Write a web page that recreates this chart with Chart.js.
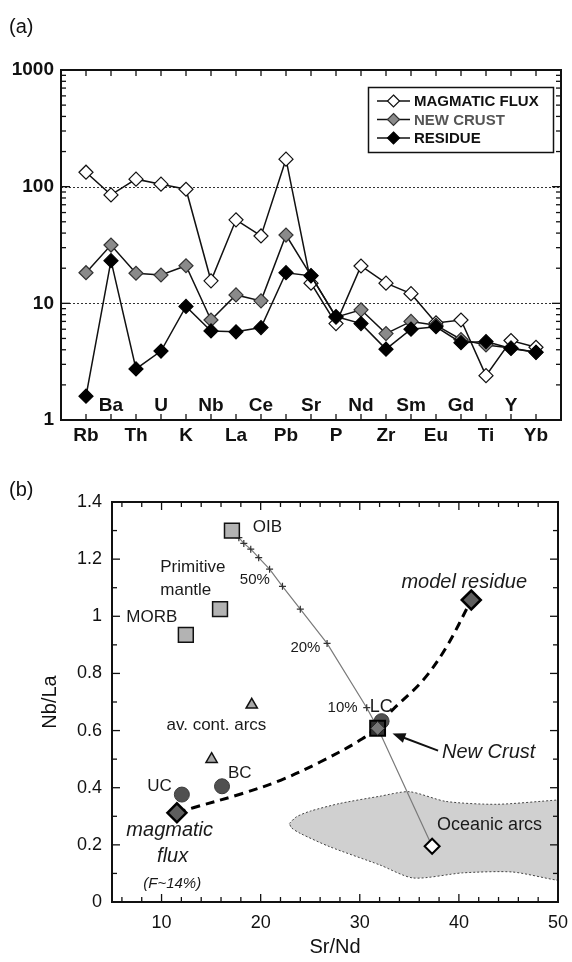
<!DOCTYPE html>
<html>
<head>
<meta charset="utf-8">
<script src="https://cdn.jsdelivr.net/npm/chart.js@4.4.1/dist/chart.umd.min.js"></script>
<style>
  html, body { margin: 0; padding: 0; background: #fff; }
  #wrap { position: relative; width: 572px; height: 962px; }
  #chartA { position: absolute; left: 0; top: 0; }
  #chartB { position: absolute; left: 0; top: 470px; }
</style>
</head>
<body>
<div id="wrap">
  <canvas id="chartA" width="572" height="470" style="width:572px;height:470px"></canvas>
  <canvas id="chartB" width="572" height="492" style="width:572px;height:492px"></canvas>
</div>
<script>
// ---- panel (a): normalised trace elements ----
const elements = ['Rb', 'Ba', 'Th', 'U', 'K', 'Nb', 'La', 'Ce', 'Pb', 'Sr', 'P', 'Nd', 'Zr', 'Sm', 'Eu', 'Gd', 'Ti', 'Y', 'Yb'];
const magmaticFlux = [133, 85, 116, 105, 95, 15.6, 52, 37.8, 172, 14.9, 6.7, 20.9, 14.9, 12.1, 6.8, 7.2, 2.4, 4.8, 4.2];
const newCrust = [18.3, 31.6, 18.1, 17.5, 21, 7.2, 11.8, 10.5, 38.5, 17.3, 7.6, 8.8, 5.5, 7.0, 6.5, 4.9, 4.4, 4.15, 3.8];
const residue = [1.6, 23.2, 2.74, 3.9, 9.4, 5.8, 5.7, 6.2, 18.3, 17.2, 7.7, 6.7, 4.05, 6.0, 6.3, 4.6, 4.7, 4.1, 3.8];
const decadeLabels = [1, 10, 100, 1000];

// ---- panel (b): Sr/Nd vs Nb/La ----
const refSquares = [[17.1, 1.30], [15.9, 1.025], [12.45, 0.935]];          // OIB, primitive mantle, MORB
const contArcs = [[19.1, 0.69], [15.05, 0.50]];
const crustCircles = [[12.05, 0.376], [16.1, 0.405], [32.2, 0.633]];        // UC, BC, LC
const newCrustPt = [[31.8, 0.608]];
const modelEnds = [[11.55, 0.312], [41.25, 1.057]];                          // magmatic flux, model residue
const oceanicStart = [[37.3, 0.195]];
const mixCurve = [[17.1, 1.30], [17.4, 1.29], [17.8, 1.275], [18.3, 1.255], [19.0, 1.235], [19.8, 1.205],
  [20.9, 1.165], [22.2, 1.105], [24.0, 1.025], [26.7, 0.905], [30.7, 0.68], [31.8, 0.61], [37.3, 0.195]];
const mixTicks = [[17.4, 1.29], [17.8, 1.275], [18.3, 1.255], [19.0, 1.235], [19.8, 1.205], [20.9, 1.165],
  [22.2, 1.105], [24.0, 1.025], [26.7, 0.905], [30.7, 0.68]];
const meltCurve = [[11.55, 0.312], [13.2, 0.33], [18, 0.378], [22, 0.426], [26, 0.49], [30.3, 0.572],
  [32, 0.62], [33.3, 0.672], [36.35, 0.775], [38.7, 0.89], [41.25, 1.057]];
const oceanicArcs = [[22.9, 0.275], [23.6, 0.298], [25, 0.318], [28, 0.345], [32, 0.37], [35.0, 0.386],
  [38.7, 0.352], [43.8, 0.342], [50, 0.357], [52, 0.36], [52, 0.07], [49.8, 0.077], [45.4, 0.105],
  [40.4, 0.102], [35.4, 0.084], [32, 0.13], [27, 0.193], [24, 0.24], [23.1, 0.26], [22.9, 0.275]];

const FONT = "'Liberation Sans', Arial, Helvetica, sans-serif";
Chart.defaults.font.family = FONT;
Chart.defaults.color = '#111';

const pts = arr => arr.map(([x, y]) => ({x, y}));
const seriesPoints = values => values.map((v, i) => ({x: i, y: v}));

function strokeLine(ctx, x1, y1, x2, y2) {
  ctx.beginPath();
  ctx.moveTo(x1, y1);
  ctx.lineTo(x2, y2);
  ctx.stroke();
}

function diamond(ctx, x, y, r) {
  ctx.beginPath();
  ctx.moveTo(x, y - r);
  ctx.lineTo(x + r, y);
  ctx.lineTo(x, y + r);
  ctx.lineTo(x - r, y);
  ctx.closePath();
}

// keep horizontal axes from reserving room for edge labels
const noOverhang = (s, h) => { s.height = h; s.paddingLeft = 0; s.paddingRight = 0; };

// ════════ PANEL (a) ════════
const panelA = {
  id: 'panelA',
  beforeDatasetsDraw(chart) {
    const {ctx, chartArea: a, scales: {y}} = chart;
    ctx.save();
    ctx.strokeStyle = '#333';
    ctx.lineWidth = 1;
    ctx.setLineDash([2, 2]);
    [10, 100].forEach(v => {
      const py = Math.round(y.getPixelForValue(v)) + 0.5;
      strokeLine(ctx, a.left, py, a.right, py);
    });
    ctx.restore();
  },
  afterDraw(chart) {
    const {ctx, chartArea: a, scales: {x, y}} = chart;
    ctx.save();
    // frame
    ctx.strokeStyle = '#111';
    ctx.lineWidth = 2;
    ctx.strokeRect(a.left, a.top, a.right - a.left, a.bottom - a.top);

    // inward ticks
    ctx.lineWidth = 1.3;
    y.ticks.forEach(t => {
      const py = y.getPixelForValue(t.value);
      const len = decadeLabels.includes(t.value) ? 9 : 5;
      strokeLine(ctx, a.left, py, a.left + len, py);
      strokeLine(ctx, a.right, py, a.right - len, py);
    });
    x.ticks.forEach(t => {
      const px = x.getPixelForValue(t.value);
      strokeLine(ctx, px, a.bottom, px, a.bottom - 6);
      strokeLine(ctx, px, a.top, px, a.top + 6);
    });

    // odd elements sit inside, above the axis
    ctx.font = 'bold 19px ' + FONT;
    ctx.fillStyle = '#111';
    ctx.textAlign = 'center';
    ctx.textBaseline = 'middle';
    elements.forEach((el, i) => {
      if (i % 2 === 1) ctx.fillText(el, x.getPixelForValue(i), a.bottom - 14);
    });

    // legend box
    const lx = 368, ly = 87, lw = 185, lh = 65;
    ctx.lineWidth = 1.5;
    ctx.strokeRect(lx + 0.5, ly + 0.5, lw, lh);
    const textColors = ['#111', '#555', '#111'];
    ctx.font = 'bold 15px ' + FONT;
    ctx.textAlign = 'left';
    chart.data.datasets.forEach((ds, i) => {
      const ry = ly + 14 + i * 18.5;
      ctx.strokeStyle = '#111';
      ctx.lineWidth = 1.5;
      strokeLine(ctx, lx + 9, ry, lx + 42, ry);
      diamond(ctx, lx + 25.5, ry, 6);
      ctx.fillStyle = ds.pointBackgroundColor;
      ctx.fill();
      ctx.lineWidth = 1.2;
      ctx.strokeStyle = ds.pointBorderColor;
      ctx.stroke();
      ctx.fillStyle = textColors[i];
      ctx.fillText(ds.label, lx + 46, ry + 1);
    });

    ctx.font = '20px ' + FONT;
    ctx.fillStyle = '#111';
    ctx.fillText('(a)', 9, 27);
    ctx.restore();
  }
};

new Chart(document.getElementById('chartA'), {
  type: 'scatter',
  data: {
    datasets: [
      {
        label: 'MAGMATIC FLUX', data: seriesPoints(magmaticFlux), showLine: true, order: 2,
        borderColor: '#111', borderWidth: 1.5,
        pointStyle: 'rectRot', pointRadius: 7, pointBorderWidth: 1.2,
        pointBackgroundColor: '#ffffff', pointBorderColor: '#111'
      },
      {
        label: 'NEW CRUST', data: seriesPoints(newCrust), showLine: true, order: 1,
        borderColor: '#111', borderWidth: 1.5,
        pointStyle: 'rectRot', pointRadius: 7, pointBorderWidth: 1.2,
        pointBackgroundColor: '#8a8a8a', pointBorderColor: '#333'
      },
      {
        label: 'RESIDUE', data: seriesPoints(residue), showLine: true, order: 0,
        borderColor: '#111', borderWidth: 1.5,
        pointStyle: 'rectRot', pointRadius: 7, pointBorderWidth: 1.2,
        pointBackgroundColor: '#000000', pointBorderColor: '#000'
      }
    ]
  },
  options: {
    responsive: false,
    animation: false,
    layout: { padding: { top: 70, right: 11, left: 0, bottom: 0 } },
    plugins: { legend: { display: false }, tooltip: { enabled: false } },
    scales: {
      x: {
        type: 'linear', min: -1, max: 19,
        afterBuildTicks: s => { s.ticks = elements.map((_, i) => ({value: i})); },
        afterFit: s => noOverhang(s, 50),
        grid: { display: false, drawTicks: false },
        border: { display: false },
        ticks: {
          autoSkip: false, maxRotation: 0, padding: 4,
          font: { size: 19, weight: 'bold' }, color: '#111',
          callback: v => (v % 2 === 0 ? elements[v] : '')
        }
      },
      y: {
        type: 'logarithmic', min: 1, max: 1000,
        afterBuildTicks: s => {
          const ticks = [];
          for (let d = 1; d < 1000; d *= 10) for (let m = 1; m < 10; m++) ticks.push({value: d * m});
          ticks.push({value: 1000});
          s.ticks = ticks;
        },
        afterFit: s => { s.width = 61; },
        grid: { display: false, drawTicks: false },
        border: { display: false },
        ticks: {
          autoSkip: false, padding: 7,
          font: { size: 19, weight: 'bold' }, color: '#111',
          callback: v => (decadeLabels.includes(v) ? String(v) : '')
        }
      }
    }
  },
  plugins: [panelA]
});

// ════════ PANEL (b) ════════
const notes = [
  ['OIB', 19.2, 1.31, '17px'], ['Primitive', 9.87, 1.173, '17px'], ['mantle', 9.87, 1.092, '17px'],
  ['50%', 17.9, 1.127, '15px'], ['MORB', 6.45, 0.995, '17px'], ['20%', 23.0, 0.891, '15px'],
  ['model residue', 34.2, 1.118, 'italic 20px'], ['10%', 26.75, 0.68, '15px'], ['LC', 31.0, 0.682, '18px'],
  ['av. cont. arcs', 10.5, 0.618, '17px'], ['UC', 8.55, 0.405, '17px'], ['BC', 16.7, 0.45, '17px'],
  ['magmatic', 6.45, 0.251, 'italic 20px'], ['flux', 9.55, 0.161, 'italic 20px'],
  ['(F~14%)', 8.15, 0.063, 'italic 15px'], ['New Crust', 38.3, 0.524, 'italic 20px'],
  ['Oceanic arcs', 37.8, 0.269, '18px']
];
const arrowFrom = [37.9, 0.53];
const arrowTo = [33.3, 0.59];

const panelB = {
  id: 'panelB',
  afterDatasetsDraw(chart) {
    const {ctx, scales: {x, y}} = chart;
    ctx.save();
    ctx.fillStyle = '#1a1a1a';
    ctx.textAlign = 'left';
    ctx.textBaseline = 'middle';
    notes.forEach(([text, vx, vy, f]) => {
      ctx.font = f + ' ' + FONT;
      ctx.fillText(text, x.getPixelForValue(vx), y.getPixelForValue(vy));
    });

    // arrow to the new crust point
    const x1 = x.getPixelForValue(arrowFrom[0]), y1 = y.getPixelForValue(arrowFrom[1]);
    const x2 = x.getPixelForValue(arrowTo[0]), y2 = y.getPixelForValue(arrowTo[1]);
    const ang = Math.atan2(y2 - y1, x2 - x1);
    ctx.strokeStyle = '#111';
    ctx.lineWidth = 2;
    strokeLine(ctx, x1, y1, x2 - 8 * Math.cos(ang), y2 - 8 * Math.sin(ang));
    ctx.beginPath();
    ctx.moveTo(x2, y2);
    ctx.lineTo(x2 - 13 * Math.cos(ang) + 5 * Math.sin(ang), y2 - 13 * Math.sin(ang) - 5 * Math.cos(ang));
    ctx.lineTo(x2 - 13 * Math.cos(ang) - 5 * Math.sin(ang), y2 - 13 * Math.sin(ang) + 5 * Math.cos(ang));
    ctx.closePath();
    ctx.fillStyle = '#111';
    ctx.fill();
    ctx.restore();
  },
  afterDraw(chart) {
    const {ctx, chartArea: a, scales: {x, y}} = chart;
    ctx.save();
    ctx.strokeStyle = '#111';
    ctx.lineWidth = 2;
    ctx.strokeRect(a.left, a.top, a.right - a.left, a.bottom - a.top);
    ctx.lineWidth = 1.3;
    y.ticks.forEach(t => {
      const py = y.getPixelForValue(t.value);
      const len = Math.round(t.value * 10) % 2 === 0 ? 8 : 5;
      strokeLine(ctx, a.left, py, a.left + len, py);
      strokeLine(ctx, a.right, py, a.right - len, py);
    });
    x.ticks.forEach(t => {
      const px = x.getPixelForValue(t.value);
      const len = t.value % 10 === 0 ? 8 : 5;
      strokeLine(ctx, px, a.bottom, px, a.bottom - len);
      strokeLine(ctx, px, a.top, px, a.top + len);
    });
    ctx.font = '20px ' + FONT;
    ctx.fillStyle = '#111';
    ctx.textBaseline = 'middle';
    ctx.fillText('(b)', 9, 20);
    ctx.restore();
  }
};

const marker = (data, style, radius, bg, border, width, order) => ({
  data: pts(data), showLine: false, order,
  pointStyle: style, pointRadius: radius,
  pointBackgroundColor: bg, pointBorderColor: border, pointBorderWidth: width
});

new Chart(document.getElementById('chartB'), {
  type: 'scatter',
  data: {
    datasets: [
      {
        data: pts(oceanicArcs), showLine: true, order: 10, pointRadius: 0, tension: 0.25,
        fill: 'shape', backgroundColor: '#d0d0d0',
        borderColor: '#444', borderWidth: 1, borderDash: [2, 2]
      },
      { data: pts(mixCurve), showLine: true, order: 9, pointRadius: 0, borderColor: '#7a7a7a', borderWidth: 1.2 },
      {
        data: pts(meltCurve), showLine: true, order: 8, pointRadius: 0, tension: 0.35,
        borderColor: '#000', borderWidth: 3, borderDash: [9, 6]
      },
      marker(mixTicks, 'cross', 3.5, '#333', '#333', 1.2, 7),
      marker(refSquares, 'rect', 10.5, '#b3b3b3', '#111', 1.5, 6),
      marker(contArcs, 'triangle', 6.5, '#a8a8a8', '#111', 1.5, 5),
      marker(crustCircles, 'circle', 7.5, '#505050', '#3a3a3a', 1, 4),
      marker(newCrustPt, 'rect', 10.5, '#333', '#000', 2, 3),
      marker(newCrustPt, 'rectRot', 7, '#777', '#222', 1, 2),
      marker(modelEnds, 'rectRot', 9.5, '#5e5e5e', '#000', 2.5, 1),
      marker(oceanicStart, 'rectRot', 7.5, '#fff', '#000', 2, 0)
    ]
  },
  options: {
    responsive: false,
    animation: false,
    layout: { padding: { top: 32, right: 14, left: 0, bottom: 0 } },
    plugins: { legend: { display: false }, tooltip: { enabled: false } },
    scales: {
      x: {
        type: 'linear', min: 5, max: 50,
        afterBuildTicks: s => { s.ticks = s.ticks.filter(t => t.value >= s.min && t.value <= s.max); },
        afterFit: s => noOverhang(s, 60),
        grid: { display: false, drawTicks: false },
        border: { display: false },
        title: { display: true, text: 'Sr/Nd', font: { size: 20 }, color: '#111', padding: { top: 0, bottom: 3 } },
        ticks: {
          stepSize: 2, includeBounds: false, autoSkip: false, maxRotation: 0, padding: 10,
          font: { size: 18 }, color: '#111',
          callback: v => (v % 10 === 0 ? String(v) : '')
        }
      },
      y: {
        type: 'linear', min: 0, max: 1.4,
        afterBuildTicks: s => { s.ticks = s.ticks.filter(t => t.value >= s.min && t.value <= s.max + 1e-9); },
        afterFit: s => { s.width = 112; },
        grid: { display: false, drawTicks: false },
        border: { display: false },
        title: { display: true, text: 'Nb/La', font: { size: 20 }, color: '#111', padding: { top: 38, bottom: 0 } },
        ticks: {
          stepSize: 0.1, autoSkip: false, padding: 10,
          font: { size: 18 }, color: '#111',
          callback: v => {
            const k = Math.round(v * 10);
            return k % 2 === 0 ? String(k / 10) : '';
          }
        }
      }
    }
  },
  plugins: [panelB]
});
</script>
</body>
</html>
